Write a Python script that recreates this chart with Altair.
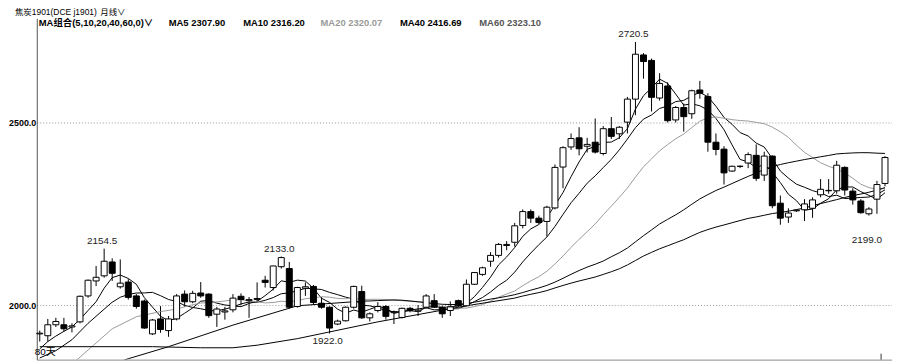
import altair as alt
import pandas as pd

# ---- candle data ----
idx = list(range(106))
opens = [1921, 1916, 1946, 1946, 1940, 1954, 2025, 2066, 2080, 2118,
         2050, 2063, 2025, 2011, 1921, 1962, 1930, 1962, 2030, 2009,
         2033, 2030, 1975, 1981, 1987, 2024, 2012, 2015, 2068, 2048,
         2105, 2100, 1996, 2046, 2051, 2005, 1994, 1948, 1957, 1994,
         2037, 1965, 1985, 1996, 1979, 1966, 1991, 1983, 1994, 2012,
         1994, 1985, 2012, 1998, 2057, 2084, 2120, 2136, 2163, 2172,
         2218, 2256, 2238, 2229, 2266, 2378, 2433, 2458, 2435, 2446,
         2415, 2483, 2469, 2501, 2564, 2685, 2670, 2567, 2600, 2507,
         2541, 2524, 2589, 2571, 2446, 2427, 2367, 2380, 2389, 2410,
         2356, 2408, 2279, 2241, 2258, 2261, 2265, 2302, 2313, 2313,
         2377, 2312, 2285, 2250, 2290, 2333]
highs = [1930, 1962, 1965, 1965, 1950, 2026, 2070, 2107, 2154.5, 2128,
         2125, 2071, 2030, 2015, 1962, 1997, 1970, 2030, 2040, 2039,
         2063, 2032, 1995, 1995, 2030, 2032, 2022, 2062, 2080, 2108,
         2133, 2118, 2050, 2062, 2055, 2022, 1996, 1960, 1996, 2053,
         2053, 1980, 2008, 2000, 1985, 1993, 1995, 2000, 2030, 2030,
         1998, 2010, 2015, 2070, 2090, 2105, 2145, 2170, 2175, 2225,
         2262, 2262, 2245, 2272, 2385, 2435, 2470, 2487, 2458, 2511,
         2490, 2515, 2490, 2570, 2720.5, 2690, 2675, 2635, 2610, 2545,
         2552, 2590, 2614, 2580, 2470, 2435, 2382, 2382, 2418, 2440,
         2420, 2410, 2300, 2265, 2262, 2290, 2295, 2345, 2345, 2395,
         2380, 2320, 2290, 2268, 2340, 2408]
lows = [1900, 1900, 1940, 1927, 1925, 1950, 2020, 2052, 2075, 2066,
        2045, 2015, 1990, 1935, 1918, 1924, 1913, 1958, 1995, 2005,
        2020, 1965, 1940, 1960, 1980, 2000, 1965, 2008, 2048, 2040,
        2100, 1990, 1993, 2025, 2000, 1990, 1922, 1945, 1955, 1990,
        1962, 1955, 1980, 1960, 1948, 1963, 1980, 1970, 1990, 1992,
        1965, 1970, 1995, 1996, 2055, 2080, 2105, 2130, 2150, 2160,
        2210, 2225, 2222, 2188, 2262, 2320, 2425, 2410, 2418, 2415,
        2410, 2455, 2455, 2470, 2520, 2620, 2530, 2560, 2500, 2500,
        2475, 2510, 2565, 2420, 2410, 2330, 2365, 2375, 2375, 2340,
        2340, 2265, 2220, 2225, 2255, 2230, 2239, 2295, 2305, 2305,
        2300, 2275, 2250, 2245, 2250, 2325]
closes = [1923, 1946, 1955, 1935, 1943, 2024, 2068, 2076, 2120, 2087,
          2060, 2021, 1996, 1937, 1959, 1933, 1962, 2025, 2009, 2032,
          2025, 1971, 1989, 1984, 2019, 2015, 2015, 2018, 2062, 2107,
          2130, 1994, 2048, 2050, 2007, 1994, 1937, 1956, 1994, 2051,
          1965, 1976, 1996, 1969, 1981, 1991, 1985, 1986, 2025, 1994,
          1976, 1995, 1998, 2057, 2089, 2102, 2136, 2166, 2166, 2217,
          2256, 2238, 2226, 2268, 2377, 2431, 2456, 2428, 2440, 2419,
          2483, 2462, 2487, 2564, 2687, 2667, 2569, 2607, 2505, 2541,
          2516, 2587, 2580, 2446, 2426, 2362, 2380, 2380, 2412, 2347,
          2408, 2272, 2238, 2252, 2260, 2277, 2288, 2317, 2314, 2383,
          2315, 2288, 2253, 2263, 2330, 2404]

# early parts of the moving averages (history before the first visible bar)
ma_periods = [5, 10, 20, 40, 60]
ma_colors = ["#000000", "#000000", "#9a9a9a", "#000000", "#000000"]
ma_early_i = {
    5: [0, 1, 2, 3, 4],
    10: [0, 2, 4, 6, 9],
    20: [0, 4, 9, 12, 15, 17, 19],
    40: [0, 8, 11, 16, 24, 32, 39],
    60: [0, 14, 20, 24, 27, 32, 42, 53, 59],
}
ma_early_v = {
    5: [1880, 1900, 1915, 1928, 1940],
    10: [1855, 1875, 1905, 1950, 2008],
    20: [1755, 1838, 1935, 1968, 1982, 1989, 2001],
    40: [1790, 1830, 1853, 1886, 1945, 1998, 2009],
    60: [1886, 1886, 1883, 1883, 1890, 1908, 1954, 1998, 2019],
}

# extreme-value labels
hi_lab_i = [8, 30, 74]
hi_lab_v = [2154.5, 2133.0, 2720.5]
lo_lab_i = [36, 103]
lo_lab_v = [1922.0, 2199.0]

header_items = [
    ("焦炭1901(DCE j1901)", -22, -6.5, "#000000", "normal", 8.5),
    ("月线∨", 64, -6.5, "#000000", "normal", 8.5),
    ("MA组合(5,10,20,40,60,0)∨", 2, 5, "#000000", "bold", 9.5),
    ("MA5 2307.90", 133, 5, "#000000", "bold", 9.5),
    ("MA10 2316.20", 208, 5, "#000000", "bold", 9.5),
    ("MA20 2320.07", 286, 5, "#9a9a9a", "bold", 9.5),
    ("MA40 2416.69", 366, 5, "#000000", "bold", 9.5),
    ("MA60 2323.10", 446, 5, "#555555", "bold", 9.5),
]

FONT = "Liberation Sans, Noto Sans CJK SC, sans-serif"
X_DOMAIN = [-0.37, 105.87]
Y_DOMAIN = [1850.54, 2785.3]

df = pd.DataFrame({"i": idx, "o": opens, "h": highs, "l": lows, "c": closes})

xscale = alt.Scale(domain=X_DOMAIN, nice=False, zero=False)
yscale = alt.Scale(domain=Y_DOMAIN, nice=False, zero=False)
xaxis = alt.Axis(labels=False, ticks=False, grid=False, domainColor="#8a8a8a", title=None)
yaxis = alt.Axis(values=[2000, 2500], format=".1f", grid=True, gridDash=[1, 2],
                 gridColor="#9a9a9a", ticks=False, labelPadding=1, domainColor="#555555",
                 labelFont="Liberation Sans", labelFontSize=9, labelFontWeight="bold",
                 labelColor="#000000", labelBaseline="middle", title=None)


def X(f):
    return alt.X(f + ":Q", scale=xscale, axis=xaxis)


def Y(f):
    return alt.Y(f + ":Q", scale=yscale, axis=yaxis)


base = alt.Chart(df)

wicks = base.mark_rule(color="black", strokeWidth=1).encode(x=X("i"), y=Y("l"), y2="h:Q")

bodies = base.transform_calculate(
    lo="min(datum.o, datum.c)", hi="max(datum.o, datum.c)",
    x0="datum.i - 0.37", x1="datum.i + 0.37",
).mark_bar(stroke="black", strokeWidth=1).encode(
    x=X("x0"), x2="x1:Q", y=Y("lo"), y2="hi:Q",
    fill=alt.condition("datum.c >= datum.o", alt.value("white"), alt.value("black")),
)

layers = [wicks]
for n, col in zip(ma_periods, ma_colors):
    comp = base.transform_window(
        ma="mean(c)", frame=[-(n - 1), 0], sort=[alt.SortField("i", order="ascending")]
    ).transform_filter(alt.datum.i >= n - 1).mark_line(
        color=col, strokeWidth=1, clip=True
    ).encode(x=X("i"), y=Y("ma"))
    early = alt.Chart(pd.DataFrame({"i": ma_early_i[n], "ma": ma_early_v[n]})).mark_line(
        color=col, strokeWidth=1, clip=True
    ).encode(x=X("i"), y=Y("ma"))
    layers += [comp, early]
layers.append(bodies)

hi_df = pd.DataFrame({"i": hi_lab_i, "v": hi_lab_v})
lo_df = pd.DataFrame({"i": lo_lab_i, "v": lo_lab_v})
hi_text = alt.Chart(hi_df).mark_text(font=FONT, fontSize=10, dx=-2, dy=-8, color="#222").encode(
    x=X("i"), y=Y("v"), text=alt.Text("v:Q", format=".1f"))
lo_text = alt.Chart(lo_df).mark_text(font=FONT, fontSize=10, dx=-2, dy=8, color="#222").encode(
    x=X("i"), y=Y("v"), text=alt.Text("v:Q", format=".1f"))
layers += [hi_text, lo_text]

one = alt.Data(values=[{}])
for txt, px, py, col, wt, fs in header_items:
    layers.append(alt.Chart(one).mark_text(
        font=FONT, fontSize=fs, fontWeight=wt, color=col, align="left", baseline="middle"
    ).encode(x=alt.value(px), y=alt.value(py), text=alt.value(txt)))

layers.append(alt.Chart(one).mark_text(
    font=FONT, fontSize=10, color="#000", align="left", baseline="middle"
).encode(x=alt.value(-2), y=alt.value(336), text=alt.value("80天")))
layers.append(alt.Chart(one).mark_rule(color="#333", strokeWidth=1).encode(
    x=alt.value(851), y=alt.value(338), y2=alt.value(344)))

chart = alt.layer(*layers).properties(
    width=862, height=344,
    padding={"left": 29, "top": 9, "right": 0, "bottom": 2},
    autosize=alt.AutoSizeParams(type="none"),
    background="white",
).configure_view(stroke=None)

chart.save("out.html", embed_options={"renderer": "svg", "actions": False})
